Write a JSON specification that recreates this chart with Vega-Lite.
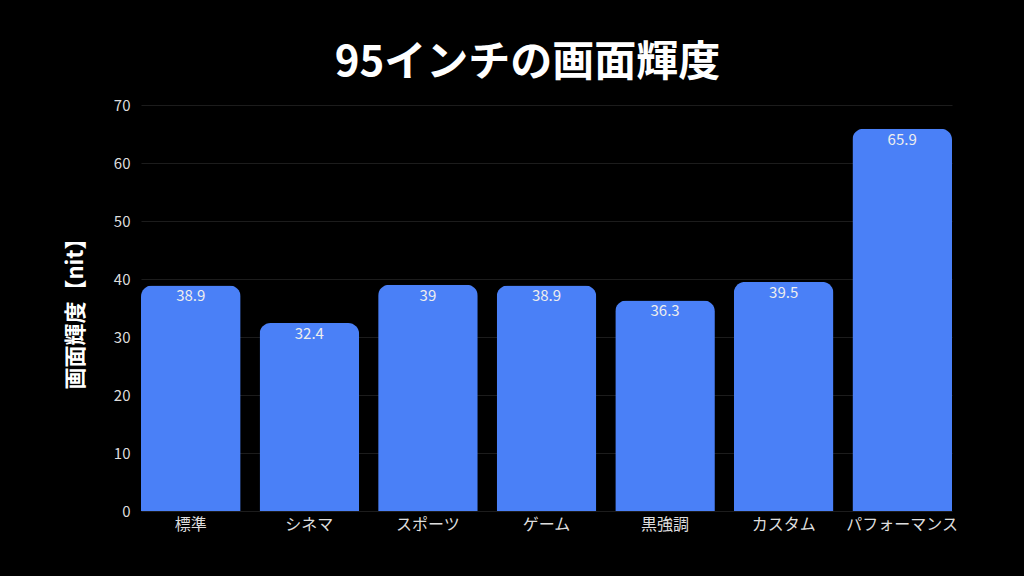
{
  "$schema": "https://vega.github.io/schema/vega-lite/v6.json",
  "width": 811,
  "height": 406,
  "autosize": {"type": "none"},
  "padding": {"left": 141, "top": 105, "right": 72, "bottom": 65},
  "background": "#000000",
  "title": {
    "text": "95インチの画面輝度",
    "font": "Noto Sans CJK JP",
    "fontSize": 42,
    "fontWeight": "bold",
    "color": "#ffffff",
    "anchor": "middle",
    "frame": "group",
    "dx": -19,
    "offset": 13
  },
  "config": {
    "view": {"stroke": null},
    "font": "Noto Sans CJK JP"
  },
  "data": {
    "values": [
      {"mode": "標準", "nit": 38.9},
      {"mode": "シネマ", "nit": 32.4},
      {"mode": "スポーツ", "nit": 39},
      {"mode": "ゲーム", "nit": 38.9},
      {"mode": "黒強調", "nit": 36.3},
      {"mode": "カスタム", "nit": 39.5},
      {"mode": "パフォーマンス", "nit": 65.9}
    ]
  },
  "encoding": {
    "x": {
      "field": "mode",
      "type": "nominal",
      "sort": null,
      "scale": {"paddingInner": 0.16, "paddingOuter": 0},
      "axis": {
        "title": null,
        "labelAngle": 0,
        "labelFont": "Noto Sans CJK JP",
        "labelFontSize": 16,
        "labelColor": "#dddddd",
        "labelPadding": 5,
        "domain": false,
        "ticks": false
      }
    },
    "y": {
      "field": "nit",
      "type": "quantitative",
      "scale": {"domain": [0, 70]},
      "axis": {
        "title": "画面輝度【nit】",
        "titleFont": "Noto Sans CJK JP",
        "titleFontSize": 22,
        "titleFontWeight": "bold",
        "titleColor": "#ffffff",
        "titlePadding": 26,
        "values": [0, 10, 20, 30, 40, 50, 60, 70],
        "labelFont": "Noto Sans CJK JP",
        "labelFontSize": 15,
        "labelColor": "#dddddd",
        "labelPadding": 11,
        "domain": false,
        "ticks": false,
        "grid": true,
        "gridColor": "#1c1c1c",
        "gridWidth": 1
      }
    }
  },
  "layer": [
    {
      "mark": {"type": "bar", "color": "#4a80f7", "cornerRadiusTopLeft": 11, "cornerRadiusTopRight": 11}
    },
    {
      "mark": {"type": "text", "baseline": "top", "dy": 4, "fontSize": 15, "color": "#eeeeee", "font": "Noto Sans CJK JP"},
      "encoding": {"text": {"field": "nit", "type": "quantitative"}}
    }
  ]
}
